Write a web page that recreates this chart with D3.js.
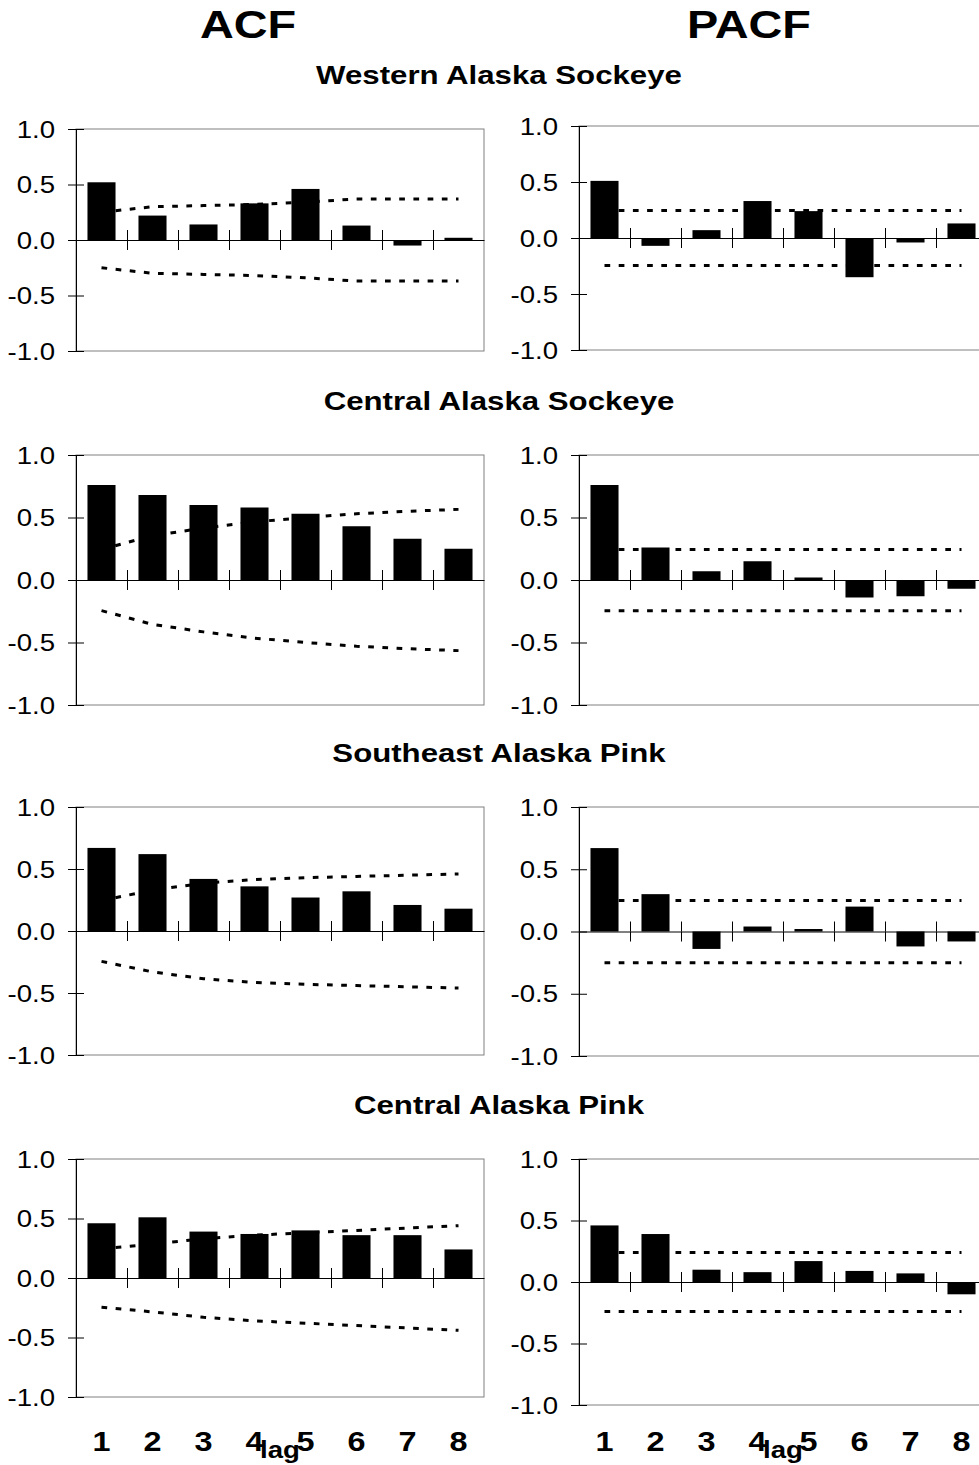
<!DOCTYPE html>
<html>
<head>
<meta charset="utf-8">
<script src="https://cdn.jsdelivr.net/npm/d3@7"></script>
<style>
  body { margin: 0; background: #fff; }
  text { font-family: "Liberation Sans", Arial, sans-serif; fill: #000; }
</style>
</head>
<body>
<script>
var lags = [1, 2, 3, 4, 5, 6, 7, 8]
var yTicks = [-1, -0.5, 0, 0.5, 1]
var regions = ['Western Alaska Sockeye', 'Central Alaska Sockeye', 'Southeast Alaska Pink', 'Central Alaska Pink']

// autocorrelation at lags 1..8
var acfWesternSockeye = [0.52, 0.22, 0.14, 0.33, 0.46, 0.13, -0.05, 0.02]
var acfCentralSockeye = [0.76, 0.68, 0.60, 0.58, 0.53, 0.43, 0.33, 0.25]
var acfSoutheastPink  = [0.67, 0.62, 0.42, 0.36, 0.27, 0.32, 0.21, 0.18]
var acfCentralPink    = [0.46, 0.51, 0.39, 0.37, 0.40, 0.36, 0.36, 0.24]

// partial autocorrelation
var pacfWesternSockeye = [0.51, -0.07, 0.07, 0.33, 0.24, -0.35, -0.04, 0.13]
var pacfCentralSockeye = [0.76, 0.26, 0.07, 0.15, 0.02, -0.14, -0.13, -0.07]
var pacfSoutheastPink  = [0.67, 0.30, -0.14, 0.04, 0.02, 0.20, -0.12, -0.08]
var pacfCentralPink    = [0.46, 0.39, 0.10, 0.08, 0.17, 0.09, 0.07, -0.10]

// +/- significance bounds
var acfBoundWesternSockeye = [0.25, 0.30, 0.31, 0.32, 0.34, 0.37, 0.37, 0.37]
var acfBoundCentralSockeye = [0.245, 0.355, 0.415, 0.465, 0.50, 0.53, 0.55, 0.565]
var acfBoundSoutheastPink  = [0.245, 0.33, 0.385, 0.415, 0.43, 0.44, 0.45, 0.46]
var acfBoundCentralPink    = [0.245, 0.285, 0.33, 0.36, 0.38, 0.40, 0.42, 0.44]
var pacfBound = [0.245, 0.245, 0.25, 0.24]

var acfs = [acfWesternSockeye, acfCentralSockeye, acfSoutheastPink, acfCentralPink]
var pacfs = [pacfWesternSockeye, pacfCentralSockeye, pacfSoutheastPink, pacfCentralPink]
var acfBounds = [acfBoundWesternSockeye, acfBoundCentralSockeye, acfBoundSoutheastPink, acfBoundCentralPink]

// layout
var colX = [76, 579]
var plotW = 408
var rowTop = [[129, 126], [455, 455], [807, 807], [1159, 1159]]
var rowBottom = [[351, 350], [705, 705], [1055, 1056], [1397, 1405]]
var sx = 1.2   // the original figure is stretched sideways

var svg = d3.select('body').append('svg')
	.attr('width', 979)
	.attr('height', 1465)

function label(sel, str, x, y, size, weight, anchor){
	return sel.append('text')
		.attr('transform', 'translate(' + x + ',' + y + ') scale(' + sx + ',1)')
		.attr('text-anchor', anchor || 'middle')
		.style('font-size', size + 'px')
		.style('font-weight', weight || 'normal')
		.text(str)
}

label(svg, 'ACF', 248, 38, 39, 'bold')
label(svg, 'PACF', 749, 38, 39, 'bold')

var band = d3.scaleBand().domain(lags).range([0, plotW]).paddingInner(0.45).paddingOuter(0.225)
var edge = d3.scaleLinear().domain([0, 8]).range([0, plotW])

regions.forEach(function(name, r){
	label(svg, name, 499, rowTop[r][0] - 45, 26, 'bold')

	;[0, 1].forEach(function(col){
		var top = rowTop[r][col], bottom = rowBottom[r][col]
		var g = svg.append('g').attr('transform', 'translate(' + colX[col] + ',' + top + ')')
		var h = bottom - top
		var y = d3.scaleLinear().domain([-1, 1]).range([h, 0])

		var vals = col == 0 ? acfs[r] : pacfs[r]
		var bounds = col == 0 ? acfBounds[r] : lags.map(function(){ return pacfBound[r] })

		g.append('rect')
			.attr('width', plotW).attr('height', h)
			.attr('fill', 'none').attr('stroke', '#808080').attr('stroke-width', 1)

		// bounds
		var line = d3.line()
			.x(function(d, i){ return band(lags[i]) + band.bandwidth()/2 })
			.y(function(d){ return y(d) })
		;[1, -1].forEach(function(s){
			g.append('path')
				.attr('d', line(bounds.map(function(b){ return s*b })))
				.attr('fill', 'none').attr('stroke', '#000')
				.attr('stroke-width', 3).attr('stroke-dasharray', '5.7,8.5')
		})

		g.selectAll('rect.bar').data(vals).enter().append('rect')
			.attr('class', 'bar')
			.attr('x', function(d, i){ return band(lags[i]) })
			.attr('width', band.bandwidth())
			.attr('y', function(d){ return y(Math.max(0, d)) })
			.attr('height', function(d){ return Math.abs(y(d) - y(0)) })
			.attr('fill', '#000')

		// zero axis with crossing ticks
		var xa = g.append('g').attr('transform', 'translate(0,' + y(0) + ')')
			.call(d3.axisBottom(edge).tickValues([1, 2, 3, 4, 5, 6, 7]).tickSize(10).tickSizeOuter(0).tickFormat(''))
		xa.selectAll('.tick line').clone().attr('y2', -10)
		xa.selectAll('line,path').attr('stroke', '#000')

		var ya = g.append('g')
			.call(d3.axisLeft(y).tickValues(yTicks).tickSize(8).tickSizeOuter(0).tickFormat(function(d){ return d.toFixed(1) }))
		ya.selectAll('.tick line').clone().attr('x2', 8)
		ya.selectAll('line,path').attr('stroke', '#000')
		ya.selectAll('.tick text')
			.attr('x', null).attr('dy', null)
			.attr('transform', 'translate(-21,8) scale(' + sx + ',1)')
			.style('font-size', '23px')
			.style('font-family', '"Liberation Sans", Arial, sans-serif')

		if (r == 3){
			lags.forEach(function(l){
				label(svg, l, colX[col] + band(l) + band.bandwidth()/2, 1451, 27, 'bold')
			})
			label(svg, 'lag', colX[col] + plotW/2, 1458, 23, 'bold')
		}
	})
})
</script>
</body>
</html>
